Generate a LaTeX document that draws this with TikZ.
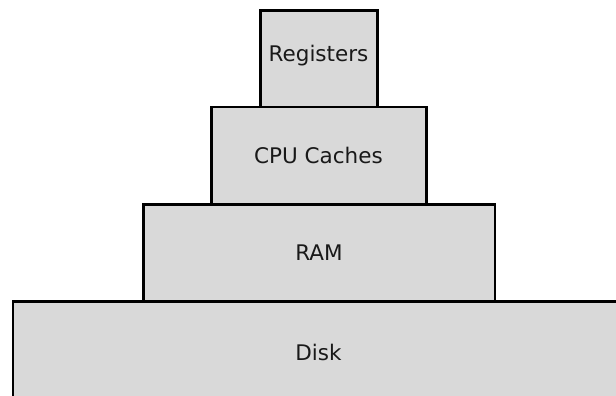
\documentclass[tikz,border=0pt]{standalone}
\usepackage{fontspec}
\setmainfont{DejaVu Sans}
\definecolor{tierfill}{RGB}{217,217,217}
\begin{document}
\begin{tikzpicture}[x=1pt,y=-1pt,
  tier/.style={draw=black, line width=2.5pt, fill=tierfill},
  tierlabel/.style={font=\fontsize{21.5}{25}\selectfont, text=black!90}]
\useasboundingbox (0,0) rectangle (616,396);
% memory hierarchy, widest tier at the bottom
\draw[tier] (13,301.5) rectangle (640,420);
\draw[tier] (143.5,204.5) rectangle (495,301.5);
\draw[tier] (211.5,107) rectangle (426.5,204.5);
\draw[tier] (260.5,10.5) rectangle (377.5,107);
\node[tierlabel] (disk) at (318.5,352) {Disk};
\node[tierlabel] (ram) at (319,253) {RAM};
\node[tierlabel] (cache) at (318.5,155.5) {CPU Caches};
\node[tierlabel] (reg) at (318.5,56) {Registers};
\end{tikzpicture}
\end{document}
